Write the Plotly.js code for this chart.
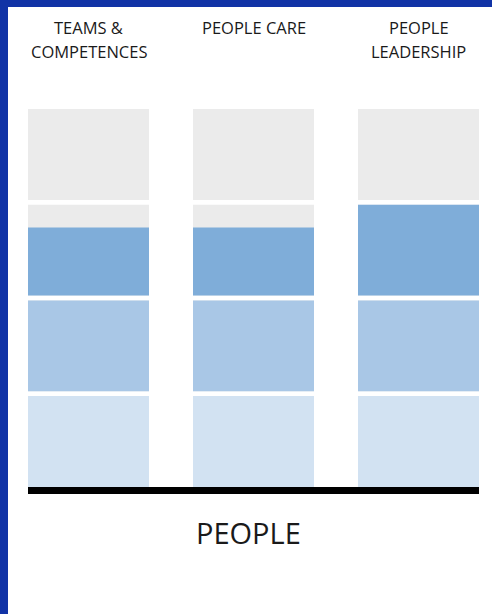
<!DOCTYPE html>
<html>
<head>
<meta charset="utf-8">
<script src="https://cdn.plot.ly/plotly-3.0.1.min.js"></script>
<style>
  html, body { margin: 0; padding: 0; background: #ffffff; }
  #frame { width: 484px; height: 607px; border-top: 7px solid #1133A6; border-left: 8px solid #1133A6; }
  #chart { width: 484px; height: 607px; }
</style>
</head>
<body>
<div id="frame"><div id="chart"></div></div>
<script>
// ---- data ----
const categories = ['TEAMS &<br>COMPETENCES', 'PEOPLE CARE', 'PEOPLE<br>LEADERSHIP'];
const scores = [2.75, 2.75, 3];           // achieved level per category (out of 4)
const levelNames = ['Level 1', 'Level 2', 'Level 3', 'Level 4'];
const levelColors = ['#D2E2F2', '#A9C7E6', '#7FADD9', '#5A8FC8'];
const groupTitle = 'PEOPLE';

// ---- styling ----
const emptyColor = '#EBEBEB';
const cellH = 0.95;       // visible part of each level (rest is gap)
const barW = 0.7333;
const headerFont = { family: 'Open Sans, sans-serif', size: 16.5, color: '#1a1a1a' };
const headerLineY = [1.2109, 1.1495];

const xs = categories.map((_, i) => i);
const traces = [];
levelNames.forEach((name, li) => {
  traces.push({
    type: 'bar', x: xs, y: xs.map(() => cellH), base: xs.map(() => li),
    width: barW, marker: { color: emptyColor, line: { width: 0 } },
    hoverinfo: 'skip', showlegend: false, name: name + ' (empty)'
  });
  const frac = scores.map(s => Math.max(0, Math.min(1, s - li)));
  traces.push({
    type: 'bar', x: xs, y: frac.map(f => f * cellH), base: xs.map(() => li),
    width: barW, marker: { color: levelColors[li], line: { width: 0 } },
    hoverinfo: 'skip', showlegend: false, name: name
  });
});

const annotations = [];
categories.forEach((c, i) => {
  c.split('<br>').forEach((line, k) => {
    annotations.push({
      x: i, xref: 'x', y: headerLineY[k], yref: 'paper', text: line, showarrow: false,
      xanchor: 'center', yanchor: 'middle', font: headerFont
    });
  });
});
annotations.push({
  x: 0.489, xref: 'paper', y: -0.101, yref: 'paper', text: groupTitle, showarrow: false,
  xanchor: 'center', yanchor: 'middle',
  font: { family: 'Open Sans, sans-serif', size: 29, color: '#1a1a1a' }
});

const layout = {
  width: 484, height: 607,
  margin: { l: 20, r: 13, t: 102, b: 120, pad: 0 },
  paper_bgcolor: '#ffffff', plot_bgcolor: '#ffffff',
  barmode: 'overlay',
  showlegend: false,
  xaxis: { range: [-barW / 2, categories.length - 1 + barW / 2], visible: false, fixedrange: true },
  yaxis: { range: [-0.073, levelNames.length - 1 + cellH], visible: false, fixedrange: true },
  shapes: [{
    type: 'rect', xref: 'paper', x0: 0, x1: 1, yref: 'y', y0: -0.073, y1: 0,
    fillcolor: '#000000', line: { width: 0 }, layer: 'above'
  }],
  annotations: annotations
};

Plotly.newPlot('chart', traces, layout, { displayModeBar: false, staticPlot: true });
</script>
</body>
</html>
